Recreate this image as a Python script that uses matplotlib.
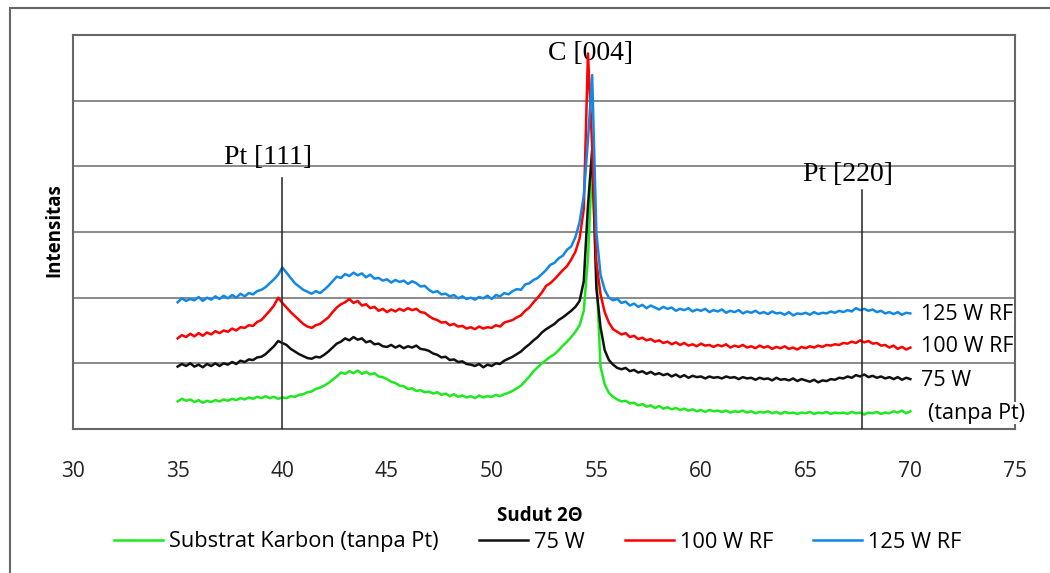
import matplotlib
matplotlib.use("Agg")
import matplotlib.pyplot as plt
import numpy as np
from matplotlib.patches import Rectangle

plt.rcParams['font.family'] = ['Open Sans', 'DejaVu Sans']

# 2-theta sampling, 35..70 deg every 0.2 deg
two_theta = np.linspace(35, 70, 176)

# intensities (arbitrary units, stacked)
substrat = [
    0.42, 0.46, 0.43, 0.45, 0.41, 0.44, 0.40, 0.43, 0.41, 0.44,
    0.42, 0.45, 0.43, 0.46, 0.44, 0.47, 0.45, 0.48, 0.46, 0.49,
    0.47, 0.50, 0.47, 0.49, 0.46, 0.48, 0.47, 0.50, 0.49, 0.52,
    0.53, 0.56, 0.57, 0.61, 0.63, 0.66, 0.70, 0.75, 0.80, 0.86,
    0.84, 0.88, 0.85, 0.89, 0.84, 0.87, 0.83, 0.85, 0.80, 0.79,
    0.76, 0.72, 0.70, 0.66, 0.65, 0.61, 0.62, 0.58, 0.59, 0.56,
    0.57, 0.54, 0.56, 0.52, 0.54, 0.50, 0.53, 0.49, 0.51, 0.48,
    0.50, 0.47, 0.51, 0.48, 0.50, 0.49, 0.52, 0.50, 0.53, 0.55,
    0.58, 0.62, 0.66, 0.73, 0.80, 0.88, 0.94, 1.00, 1.05, 1.10,
    1.14, 1.20, 1.27, 1.33, 1.40, 1.48, 1.58, 1.80, 2.60, 4.05,
    2.40, 0.95, 0.68, 0.55, 0.49, 0.45, 0.42, 0.43, 0.39, 0.40,
    0.36, 0.38, 0.34, 0.36, 0.32, 0.35, 0.31, 0.33, 0.30, 0.32,
    0.29, 0.31, 0.28, 0.30, 0.27, 0.29, 0.26, 0.29, 0.27, 0.28,
    0.26, 0.28, 0.25, 0.27, 0.26, 0.28, 0.25, 0.27, 0.24, 0.26,
    0.25, 0.27, 0.24, 0.26, 0.23, 0.26, 0.24, 0.25, 0.23, 0.25,
    0.24, 0.26, 0.23, 0.25, 0.24, 0.26, 0.23, 0.25, 0.24, 0.25,
    0.23, 0.26, 0.24, 0.25, 0.22, 0.25, 0.24, 0.26, 0.23, 0.25,
    0.24, 0.27, 0.25, 0.28, 0.24, 0.27,
]
w75 = [
    0.95, 0.99, 0.96, 1.00, 0.95, 0.98, 0.94, 0.99, 0.96, 1.00,
    0.96, 1.00, 0.98, 1.02, 0.99, 1.04, 1.02, 1.06, 1.05, 1.09,
    1.10, 1.14, 1.20, 1.26, 1.34, 1.31, 1.28, 1.22, 1.18, 1.14,
    1.11, 1.08, 1.07, 1.10, 1.09, 1.13, 1.18, 1.24, 1.30, 1.33,
    1.38, 1.35, 1.40, 1.36, 1.38, 1.32, 1.34, 1.29, 1.30, 1.26,
    1.25, 1.28, 1.24, 1.27, 1.23, 1.26, 1.24, 1.27, 1.22, 1.21,
    1.19, 1.15, 1.13, 1.09, 1.10, 1.05, 1.06, 1.02, 1.03, 0.99,
    0.98, 0.96, 0.99, 0.94, 0.98, 0.96, 1.00, 0.99, 1.04, 1.07,
    1.10, 1.14, 1.18, 1.24, 1.29, 1.35, 1.40, 1.47, 1.52, 1.56,
    1.60, 1.66, 1.70, 1.75, 1.80, 1.86, 1.95, 2.25, 3.40, 4.25,
    2.15, 1.55, 1.20, 1.05, 0.98, 0.93, 0.91, 0.93, 0.88, 0.90,
    0.86, 0.88, 0.84, 0.87, 0.83, 0.85, 0.82, 0.84, 0.80, 0.83,
    0.79, 0.82, 0.78, 0.81, 0.79, 0.80, 0.77, 0.80, 0.78, 0.79,
    0.77, 0.80, 0.78, 0.79, 0.76, 0.79, 0.77, 0.78, 0.75, 0.78,
    0.76, 0.77, 0.74, 0.78, 0.75, 0.76, 0.74, 0.77, 0.73, 0.76,
    0.74, 0.72, 0.75, 0.71, 0.74, 0.73, 0.76, 0.75, 0.78, 0.77,
    0.80, 0.78, 0.82, 0.80, 0.83, 0.79, 0.81, 0.78, 0.80, 0.77,
    0.79, 0.76, 0.79, 0.75, 0.78, 0.76,
]
w100 = [
    1.38, 1.43, 1.40, 1.45, 1.41, 1.46, 1.42, 1.47, 1.44, 1.49,
    1.46, 1.50, 1.48, 1.53, 1.50, 1.55, 1.54, 1.58, 1.57, 1.63,
    1.66, 1.73, 1.80, 1.88, 2.00, 1.92, 1.85, 1.78, 1.72, 1.66,
    1.60, 1.56, 1.54, 1.58, 1.60, 1.65, 1.70, 1.78, 1.85, 1.90,
    1.93, 1.98, 1.92, 1.95, 1.88, 1.90, 1.84, 1.86, 1.80, 1.83,
    1.78, 1.82, 1.79, 1.83, 1.80, 1.84, 1.81, 1.83, 1.78, 1.77,
    1.72, 1.68, 1.66, 1.62, 1.63, 1.58, 1.60, 1.56, 1.57, 1.53,
    1.55, 1.52, 1.56, 1.53, 1.55, 1.54, 1.58, 1.56, 1.62, 1.64,
    1.66, 1.70, 1.73, 1.80, 1.85, 1.93, 2.00, 2.08, 2.18, 2.22,
    2.28, 2.35, 2.42, 2.48, 2.58, 2.70, 2.90, 3.35, 5.72, 4.30,
    2.55, 2.05, 1.78, 1.62, 1.52, 1.48, 1.44, 1.46, 1.40, 1.42,
    1.37, 1.39, 1.35, 1.37, 1.33, 1.35, 1.31, 1.33, 1.29, 1.32,
    1.28, 1.31, 1.27, 1.29, 1.26, 1.30, 1.27, 1.28, 1.25, 1.28,
    1.26, 1.29, 1.24, 1.27, 1.25, 1.28, 1.24, 1.26, 1.23, 1.27,
    1.24, 1.26, 1.22, 1.25, 1.23, 1.26, 1.22, 1.24, 1.21, 1.25,
    1.23, 1.26, 1.24, 1.27, 1.25, 1.28, 1.27, 1.29, 1.28, 1.31,
    1.30, 1.33, 1.31, 1.35, 1.32, 1.34, 1.30, 1.31, 1.27, 1.28,
    1.24, 1.27, 1.22, 1.25, 1.21, 1.24,
]
w125 = [
    1.93, 1.99, 1.95, 1.98, 1.96, 2.01, 1.95, 2.00, 1.97, 2.02,
    1.98, 2.03, 1.99, 2.04, 2.00, 2.06, 2.02, 2.07, 2.05, 2.10,
    2.12, 2.16, 2.22, 2.28, 2.35, 2.46, 2.38, 2.30, 2.22, 2.17,
    2.12, 2.09, 2.06, 2.10, 2.07, 2.12, 2.18, 2.25, 2.32, 2.30,
    2.36, 2.33, 2.38, 2.34, 2.37, 2.31, 2.35, 2.29, 2.30, 2.26,
    2.28, 2.23, 2.27, 2.24, 2.26, 2.21, 2.25, 2.22, 2.17, 2.18,
    2.12, 2.08, 2.10, 2.05, 2.06, 2.02, 2.04, 1.99, 2.02, 1.98,
    2.00, 1.97, 2.01, 1.99, 2.03, 1.98, 2.04, 2.02, 2.07, 2.05,
    2.10, 2.13, 2.12, 2.20, 2.22, 2.27, 2.30, 2.36, 2.42, 2.50,
    2.53, 2.60, 2.64, 2.73, 2.78, 2.92, 3.15, 3.55, 4.40, 5.39,
    3.00, 2.35, 2.12, 2.00, 1.96, 1.98, 1.92, 1.94, 1.88, 1.91,
    1.86, 1.89, 1.84, 1.88, 1.85, 1.82, 1.86, 1.83, 1.85, 1.80,
    1.83, 1.81, 1.84, 1.79, 1.82, 1.80, 1.83, 1.78, 1.81, 1.79,
    1.82, 1.77, 1.80, 1.78, 1.81, 1.76, 1.79, 1.77, 1.80, 1.76,
    1.78, 1.75, 1.79, 1.76, 1.77, 1.74, 1.78, 1.73, 1.76, 1.75,
    1.77, 1.74, 1.78, 1.75, 1.77, 1.76, 1.79, 1.77, 1.80, 1.78,
    1.81, 1.79, 1.84, 1.81, 1.83, 1.80, 1.82, 1.78, 1.80, 1.76,
    1.78, 1.75, 1.78, 1.74, 1.77, 1.76,
]

series_names = ['Substrat Karbon (tanpa Pt)', '75 W', '100 W RF', '125 W RF']
series_colors = ['#1ee81e', '#111111', '#ff0000', '#1188e6']
end_labels = ['(tanpa Pt)', '75 W', '100 W RF', '125 W RF']

peak_pos = [40.0, 67.7]
peak_names = ['Pt [111]', 'Pt [220]']

fig = plt.figure(figsize=(10.5, 5.73), dpi=100)
ax = fig.add_axes([73/1050, 1-429/573, (1015-73)/1050, (429-35)/573])

# outer chart border
fig.add_artist(Rectangle((9.5/1050, -0.1), 1.2, 1.1 - 8/573, transform=fig.transFigure,
                         fill=False, edgecolor='#666666', lw=1.5))

for ys, name, col in zip([substrat, w75, w100, w125], series_names, series_colors):
    ax.plot(two_theta, ys, color=col, lw=1.8, label=name, zorder=3)

ax.set_xlim(30, 75)
ax.set_ylim(0, 6)
ax.set_xticks(np.arange(30, 80, 5))
ax.set_yticks(np.arange(1, 6))
ax.set_yticklabels([])
ax.tick_params(length=0, labelsize=15, colors='#222222')
ax.tick_params(axis='x', pad=23)
ax.grid(axis='y', color='#8a8a8a', lw=1.4)
ax.set_axisbelow(True)
for s in ax.spines.values():
    s.set_color('#666666')
    s.set_linewidth(1.5)

ax.set_ylabel('Intensitas', fontsize=13.5, fontweight='bold')
ax.yaxis.set_label_coords(-0.0096, 0.505)
ax.set_xlabel('Sudut 2Θ', fontsize=13.5, fontweight='bold')
ax.xaxis.set_label_coords(0.4958, -0.195)

# reflection markers
ax.plot([peak_pos[0]]*2, [0, 3.82], color='#222222', lw=1.1, zorder=4)
ax.plot([peak_pos[1]]*2, [0, 3.64], color='#222222', lw=1.1, zorder=4)
ax.text(39.32, 4.03, peak_names[0], fontsize=20, family='Liberation Serif', ha='center', va='baseline')
ax.text(67.03, 3.78, peak_names[1], fontsize=20, family='Liberation Serif', ha='center', va='baseline')
ax.text(54.7, 5.62, 'C [004]', fontsize=20, family='Liberation Serif', ha='center', va='baseline',
        zorder=2)

# labels at the right end of each trace
end_x = [70.85, 70.5, 70.5, 70.5]
end_y = [0.24, 0.74, 1.25, 1.75]
for lab, xx, yy in zip(end_labels, end_x, end_y):
    ax.text(xx, yy, lab, fontsize=15.5, ha='left', va='center', zorder=5, clip_on=False,
            bbox=dict(facecolor='white', edgecolor='none', pad=0.5))

fig.legend(loc='center', bbox_to_anchor=(538/1050, 1-542/573), ncol=4, frameon=False,
           fontsize=15.7, handlelength=2.25, handletextpad=0.28, columnspacing=1.83)

fig.savefig('out.png', dpi=100, facecolor='white')
